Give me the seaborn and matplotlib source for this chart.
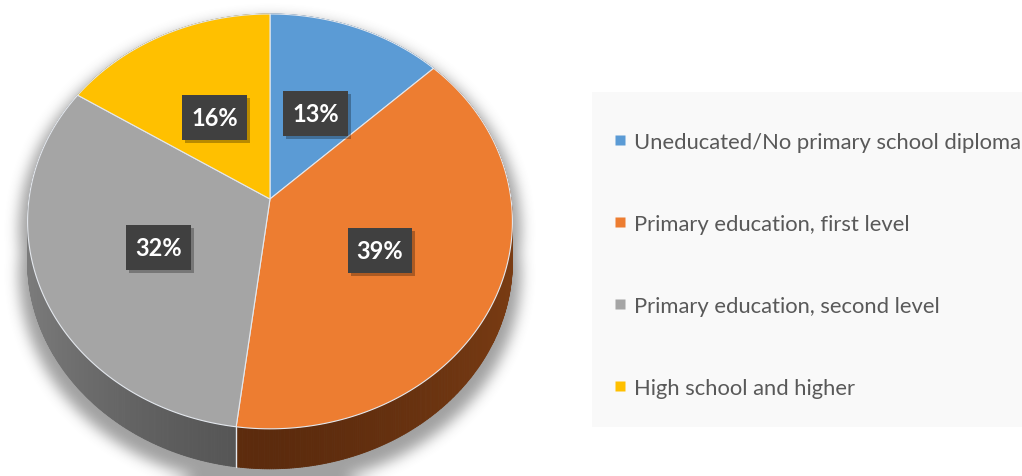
import numpy as np
import matplotlib
matplotlib.use("Agg")
import matplotlib.pyplot as plt
import matplotlib.transforms as mtransforms
from matplotlib.path import Path
from matplotlib.collections import PolyCollection
from matplotlib.lines import Line2D
from matplotlib.patches import Rectangle
from matplotlib.colors import to_rgb
import seaborn as sns

# ---- data -------------------------------------------------------------
categories = [
    "Uneducated/No primary school diploma",
    "Primary education, first level",
    "Primary education, second level",
    "High school and higher",
]
shares = [13, 39, 32, 16]
top_colors = ["#5B9BD5", "#ED7D31", "#A5A5A5", "#FFC000"]
# (darkest, lightest) shade of each slice's rim
rim_colors = [("#2f5f8c", "#3d72a3"), ("#5c2b0d", "#7a3c13"),
              ("#545454", "#7d7d7d"), ("#8a6800", "#a07a00")]

sns.set_theme(style="white")
plt.rcParams["font.family"] = ["Lato", "DejaVu Sans"]

W, H = 1022, 477
fig = plt.figure(figsize=(W / 100, H / 100), dpi=100)
ax = fig.add_axes([0, 0, 1, 1])


class TiltedDisc(mtransforms.Transform):
    """Perspective view of the unit disc lying on a tilted plane."""
    input_dims = output_dims = 2
    is_separable = False
    has_inverse = False

    def __init__(self, cx, cy, rx, ry, k, drop=0.0):
        super().__init__()
        self.cx, self.cy, self.rx, self.ry, self.k, self.drop = cx, cy, rx, ry, k, drop

    def transform_non_affine(self, values):
        values = np.asarray(values, float).reshape(-1, 2)
        u, v = values[:, 0], values[:, 1]
        w = 1.0 + self.k * v
        return np.column_stack([self.cx + self.rx * u / w,
                                self.cy - self.ry * v / w + self.drop])

    def transform_path_non_affine(self, path):
        s = 2000.0
        polys = path.to_polygons(transform=mtransforms.Affine2D().scale(s),
                                 closed_only=True)
        verts, codes = [], []
        for p in polys:
            p = np.asarray(p) / s
            verts.append(self.transform_non_affine(p))
            codes.append([Path.MOVETO] + [Path.LINETO] * (len(p) - 2) + [Path.CLOSEPOLY])
        return Path(np.concatenate(verts), np.concatenate(codes))


CX, CY, RX, RY, K, DEPTH = 270, 200, 241, 205, 0.108, 40
top = TiltedDisc(CX, CY, RX, RY, K)
base = TiltedDisc(CX, CY, RX, RY, K, drop=DEPTH)

wedges, texts, autotexts = ax.pie(
    shares, colors=top_colors, startangle=90, counterclock=False,
    autopct="%1.0f%%", pctdistance=0.5,
    wedgeprops=dict(edgecolor="#e4e8ee", linewidth=0.8),
    textprops=dict(color="white", fontsize=17, fontweight="bold"),
)
ax.set_aspect("auto")
ax.set_xlim(0, W)
ax.set_ylim(H, 0)
ax.axis("off")

for wdg in wedges:
    wdg.set_transform(top + ax.transData)
    wdg.set_zorder(2)

# ---- rim of the disc ---------------------------------------------------
def blend(c1, c2, f):
    a, b = np.array(to_rgb(c1)), np.array(to_rgb(c2))
    return tuple(a + (b - a) * f)

for wdg, (dark, light) in zip(wedges, rim_colors):
    t = np.radians(np.linspace(wdg.theta1, wdg.theta2, 300))
    ring = np.column_stack([np.cos(t), np.sin(t)])
    up, dn = top.transform(ring), base.transform(ring)
    quads = [[up[i], up[i + 1], dn[i + 1], dn[i]] for i in range(len(t) - 1)]
    mid = 0.5 * (t[:-1] + t[1:])
    cols = [blend(dark, light, abs(np.cos(m)) ** 1.5) for m in mid]
    ax.add_collection(PolyCollection(quads, facecolors=cols, edgecolors=cols,
                                     linewidths=0.6, zorder=1))

# thin seam where the rims of neighbouring slices meet
for wdg in wedges:
    a = np.radians(wdg.theta1)
    pt = np.array([[np.cos(a), np.sin(a)]])
    p0, p1 = top.transform(pt)[0], base.transform(pt)[0]
    if np.sin(a) < 0:
        ax.plot([p0[0], p1[0]], [p0[1], p1[1]], color="#e4e8ee", lw=1.0, zorder=1.5)

# ---- soft drop shadow under the disc -----------------------------------
t = np.linspace(0, 2 * np.pi, 400)
ring = np.column_stack([np.cos(t), np.sin(t)])
yy, xx = np.mgrid[0:H, 0:W] + 0.5
pts = np.column_stack([xx.ravel(), yy.ravel()])
sh_top = TiltedDisc(CX, CY + 8, RX * 1.035, RY * 1.02, K)
sh_base = TiltedDisc(CX, CY + 8, RX * 1.035, RY * 1.02, K, drop=DEPTH + 5)
mask = (Path(sh_top.transform(ring)).contains_points(pts) |
        Path(sh_base.transform(ring)).contains_points(pts)).reshape(H, W).astype(float)


def box_blur(a, r):
    for axis in (0, 1):
        pad = [(0, 0), (0, 0)]
        pad[axis] = (r + 1, r)
        c = np.cumsum(np.pad(a, pad, mode="edge"), axis=axis)
        n = a.shape[axis]
        if axis == 0:
            a = (c[2 * r + 1:2 * r + 1 + n] - c[:n]) / (2 * r + 1)
        else:
            a = (c[:, 2 * r + 1:2 * r + 1 + n] - c[:, :n]) / (2 * r + 1)
    return a

for _ in range(3):
    mask = box_blur(mask, 6)
shadow = np.zeros((H, W, 4))
shadow[..., :3] = 0.33
shadow[..., 3] = mask * 0.55
ax.imshow(shadow, extent=(0, W, H, 0), aspect="auto", zorder=0,
          interpolation="bilinear")
ax.set_xlim(0, W)
ax.set_ylim(H, 0)

# ---- percentage labels --------------------------------------------------
for at in autotexts:
    x, y = at.get_position()
    px, py = top.transform([[x, y]])[0]
    at.set_position((px, py + 4))
    at.set_transform(ax.transData)
    at.set_ha("center")
    at.set_va("center")
    at.set_zorder(5)

# ---- legend -------------------------------------------------------------
ax.add_patch(Rectangle((592, 93), 440, 335, fc="#f9f9f9", ec="none", zorder=0.5))
handles = [Line2D([], [], marker="s", linestyle="none", markersize=7,
                  markerfacecolor=c, markeredgecolor="none") for c in top_colors]
ax.legend(handles, categories, loc="upper left", bbox_to_anchor=(611, 133),
          bbox_transform=ax.transData, frameon=False, fontsize=15.8,
          labelcolor="#595959", labelspacing=2.82, handlelength=0.8,
          handletextpad=0.25, borderpad=0, borderaxespad=0)

# dark label boxes (with a soft offset shadow) sized around each label
fig.canvas.draw()
inv = ax.transData.inverted()
PADX, PADY = 9, 11
for at in autotexts:
    bb = at.get_window_extent()
    (x0, y0), (x1, y1) = inv.transform([[bb.x0 - PADX, bb.y0 - PADY],
                                       [bb.x1 + PADX, bb.y1 + PADY]])
    xl, yt = min(x0, x1), min(y0, y1)
    w, h = abs(x1 - x0), abs(y1 - y0)
    ax.add_patch(Rectangle((xl + 3, yt + 3), w, h, fc="black", ec="none",
                           alpha=0.28, zorder=3.5))
    ax.add_patch(Rectangle((xl, yt), w, h, fc="#404040", ec="none", zorder=4))

fig.savefig("out.png", dpi=100, facecolor="white")
